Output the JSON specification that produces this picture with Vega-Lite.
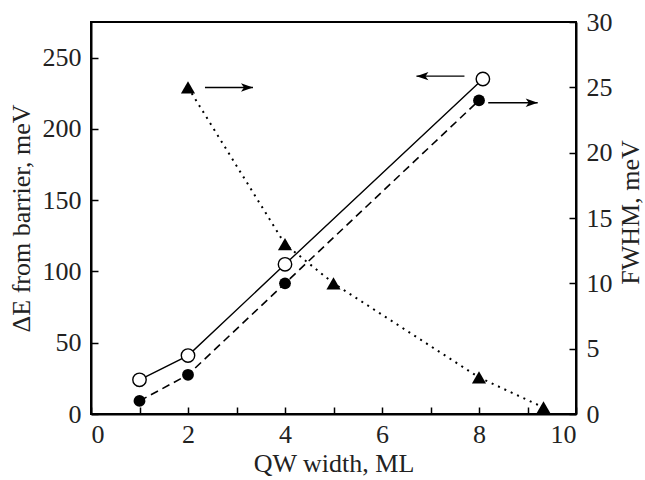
{
  "$schema": "https://vega.github.io/schema/vega-lite/v6.json",
  "width": 485,
  "height": 392,
  "autosize": "none",
  "padding": {"left": 91, "top": 22, "right": 69, "bottom": 66},
  "background": "white",
  "config": {
    "view": {"stroke": "black", "strokeWidth": 2},
    "font": "Liberation Serif",
    "axis": {
      "domainColor": "black",
      "domainWidth": 2,
      "tickColor": "black",
      "tickWidth": 1.5,
      "tickSize": -7,
      "grid": false,
      "labelFont": "Liberation Serif",
      "labelFontSize": 26,
      "labelColor": "#222",
      "titleFont": "Liberation Serif",
      "titleFontSize": 26,
      "titleFontWeight": "normal",
      "titleColor": "#222",
      "labelPadding": 17
    }
  },
  "datasets": {
    "pts": [
      {"series": "dE", "x": 1, "y": 24},
      {"series": "dE", "x": 2, "y": 41},
      {"series": "dE", "x": 4, "y": 105},
      {"series": "dE", "x": 8.08, "y": 235},
      {"series": "fwhmCircle", "x": 1, "y": 1},
      {"series": "fwhmCircle", "x": 2, "y": 3},
      {"series": "fwhmCircle", "x": 4, "y": 10},
      {"series": "fwhmCircle", "x": 8, "y": 24},
      {"series": "fwhmTriangle", "x": 2, "y": 25},
      {"series": "fwhmTriangle", "x": 4, "y": 13},
      {"series": "fwhmTriangle", "x": 5, "y": 10},
      {"series": "fwhmTriangle", "x": 8, "y": 2.8},
      {"series": "fwhmTriangle", "x": 9.33, "y": 0.5}
    ],
    "arrows": [
      {"x1": 2.35, "x2": 3.34, "y": 229, "head": "right"},
      {"x1": 6.71, "x2": 7.7, "y": 237, "head": "left"},
      {"x1": 8.19, "x2": 9.21, "y": 218.4, "head": "right"}
    ]
  },
  "layer": [
    {
      "layer": [
        {
          "data": {"name": "pts"},
          "transform": [{"filter": "datum.series === 'dE'"}],
          "mark": {"type": "line", "color": "black", "strokeWidth": 1.4},
          "encoding": {
            "x": {
              "field": "x", "type": "quantitative",
              "scale": {"domain": [0, 10], "nice": false},
              "axis": {
                "title": "QW width, ML",
                "values": [0, 1, 2, 3, 4, 5, 6, 7, 8, 9, 10],
                "labelExpr": "datum.value % 2 === 0 ? datum.label : ''",
                "labelPadding": 14,
                "titlePadding": 3
              }
            },
            "y": {
              "field": "y", "type": "quantitative",
              "scale": {"domain": [0, 275], "nice": false},
              "axis": {
                "title": "ΔE from barrier, meV",
                "orient": "left",
                "values": [0, 25, 50, 75, 100, 125, 150, 175, 200, 225, 250],
                "labelExpr": "datum.value % 50 === 0 ? datum.label : ''",
                "titlePadding": 8
              }
            }
          }
        },
        {
          "data": {"name": "pts"},
          "transform": [{"filter": "datum.series === 'dE'"}],
          "mark": {"type": "point", "shape": "circle", "filled": true, "fill": "white", "stroke": "black", "strokeWidth": 1.4, "size": 180, "opacity": 1},
          "encoding": {
            "x": {"field": "x", "type": "quantitative", "title": "QW width, ML"},
            "y": {"field": "y", "type": "quantitative", "title": "ΔE from barrier, meV"}
          }
        },
        {
          "data": {"name": "arrows"},
          "mark": {"type": "rule", "color": "black", "strokeWidth": 1.4},
          "encoding": {
            "x": {"field": "x1", "type": "quantitative", "title": "QW width, ML"},
            "x2": {"field": "x2"},
            "y": {"field": "y", "type": "quantitative", "title": "ΔE from barrier, meV"}
          }
        },
        {
          "data": {"name": "arrows"},
          "transform": [{"filter": "datum.head === 'right'"}],
          "mark": {"type": "point", "shape": "M0,0L-2,-0.7L-1.5,0L-2,0.7Z", "filled": true, "color": "black", "size": 144, "opacity": 1},
          "encoding": {
            "x": {"field": "x2", "type": "quantitative", "title": "QW width, ML"},
            "y": {"field": "y", "type": "quantitative", "title": "ΔE from barrier, meV"}
          }
        },
        {
          "data": {"name": "arrows"},
          "transform": [{"filter": "datum.head === 'left'"}],
          "mark": {"type": "point", "shape": "M0,0L2,-0.7L1.5,0L2,0.7Z", "filled": true, "color": "black", "size": 144, "opacity": 1},
          "encoding": {
            "x": {"field": "x1", "type": "quantitative", "title": "QW width, ML"},
            "y": {"field": "y", "type": "quantitative", "title": "ΔE from barrier, meV"}
          }
        }
      ]
    },
    {
      "layer": [
        {
          "data": {"name": "pts"},
          "transform": [{"filter": "datum.series === 'fwhmCircle'"}],
          "mark": {"type": "line", "color": "black", "strokeWidth": 1.6, "strokeDash": [8, 5]},
          "encoding": {
            "x": {"field": "x", "type": "quantitative", "title": "QW width, ML"},
            "y": {
              "field": "y", "type": "quantitative",
              "scale": {"domain": [0, 30], "nice": false},
              "axis": {
                "title": "FWHM, meV",
                "orient": "right",
                "values": [0, 2.5, 5, 7.5, 10, 12.5, 15, 17.5, 20, 22.5, 25, 27.5, 30],
                "labelExpr": "datum.value % 5 === 0 ? datum.label : ''",
                "titleAngle": -90,
                "titleBaseline": "top",
                "titleY": 190,
                "titlePadding": 5
              }
            }
          }
        },
        {
          "data": {"name": "pts"},
          "transform": [{"filter": "datum.series === 'fwhmTriangle'"}],
          "mark": {"type": "line", "color": "black", "strokeWidth": 2, "strokeDash": [2, 5]},
          "encoding": {
            "x": {"field": "x", "type": "quantitative", "title": "QW width, ML"},
            "y": {"field": "y", "type": "quantitative", "title": "FWHM, meV"}
          }
        },
        {
          "data": {"name": "pts"},
          "transform": [{"filter": "datum.series === 'fwhmCircle'"}],
          "mark": {"type": "point", "shape": "circle", "filled": true, "color": "black", "size": 140, "opacity": 1},
          "encoding": {
            "x": {"field": "x", "type": "quantitative", "title": "QW width, ML"},
            "y": {"field": "y", "type": "quantitative", "title": "FWHM, meV"}
          }
        },
        {
          "data": {"name": "pts"},
          "transform": [{"filter": "datum.series === 'fwhmTriangle'"}],
          "mark": {"type": "point", "shape": "triangle-up", "filled": true, "color": "black", "size": 200, "opacity": 1},
          "encoding": {
            "x": {"field": "x", "type": "quantitative", "title": "QW width, ML"},
            "y": {"field": "y", "type": "quantitative", "title": "FWHM, meV"}
          }
        }
      ]
    }
  ],
  "resolve": {"scale": {"y": "independent"}, "axis": {"y": "independent"}}
}
